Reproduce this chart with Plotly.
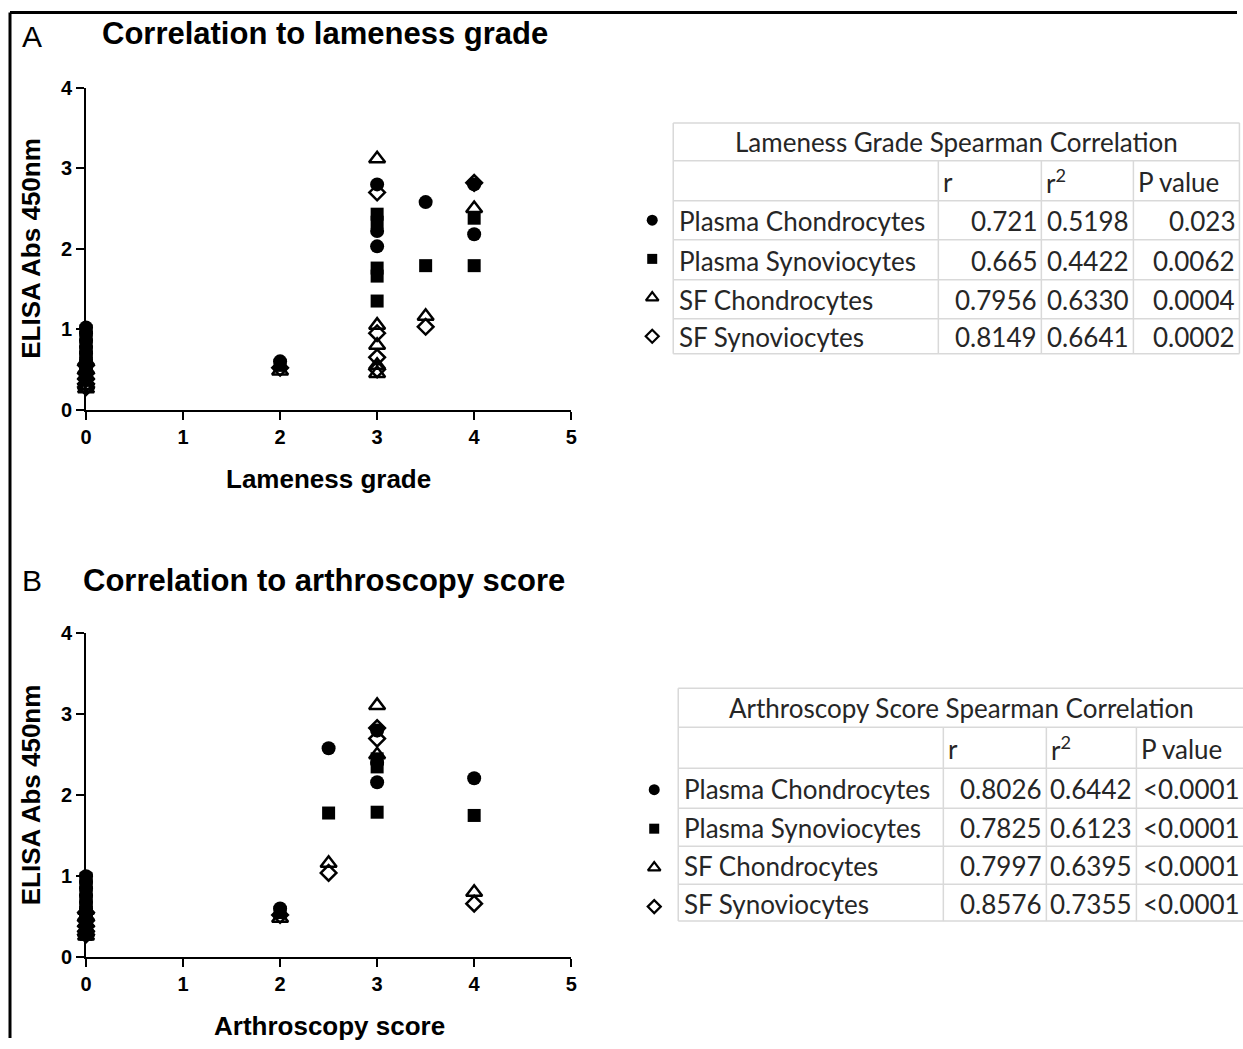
import plotly.graph_objects as go

W, H = 1243, 1049
# map reference pixel positions to paper coordinates (small calibration for page rendering)
def fx(p): return min(max(((p - 5) / 0.99) / W, -0.01), 1.01)
def fy(p): return min(max(1 - ((p - 10) / 0.98) / H, -0.01), 1.01)

# ---------------- DATA ----------------
series_names = ["Plasma Chondrocytes", "Plasma Synoviocytes", "SF Chondrocytes", "SF Synoviocytes"]

# Panel A: lameness grade
lam_pc_x = [0, 0, 0, 0, 0, 0, 0, 0, 2, 3, 3, 3, 3.5, 4, 4]
lam_pc_y = [1.02, 0.95, 0.86, 0.78, 0.70, 0.62, 0.55, 0.50, 0.60, 2.80, 2.22, 2.03, 2.58, 2.80, 2.18]
lam_ps_x = [0, 0, 0, 0, 0, 0, 0, 0, 2, 3, 3, 3, 3, 3, 3.5, 4, 4]
lam_ps_y = [0.98, 0.90, 0.80, 0.72, 0.65, 0.58, 0.50, 0.45, 0.55, 2.43, 2.33, 1.76, 1.66, 1.35, 1.79, 2.38, 1.79]
lam_sc_x = [0, 0, 0, 0, 0, 0, 2, 3, 3, 3, 3, 3, 3.5, 4]
lam_sc_y = [0.60, 0.50, 0.42, 0.35, 0.30, 0.26, 0.48, 3.12, 1.05, 0.80, 0.55, 0.45, 1.16, 2.50]
lam_ss_x = [0, 0, 0, 0, 0, 2, 3, 3, 3, 3, 3.5, 4]
lam_ss_y = [0.55, 0.45, 0.38, 0.32, 0.28, 0.52, 2.70, 0.95, 0.65, 0.50, 1.03, 2.82]

# Panel B: arthroscopy score
art_pc_x = [0, 0, 0, 0, 0, 0, 0, 0, 2, 2.5, 3, 3, 3, 4]
art_pc_y = [1.00, 0.93, 0.85, 0.76, 0.68, 0.60, 0.52, 0.45, 0.60, 2.58, 2.80, 2.40, 2.16, 2.21]
art_ps_x = [0, 0, 0, 0, 0, 0, 0, 0, 0, 2, 2.5, 3, 3, 3, 4]
art_ps_y = [0.97, 0.88, 0.78, 0.70, 0.62, 0.55, 0.45, 0.36, 0.28, 0.55, 1.78, 2.45, 2.35, 1.79, 1.75]
art_sc_x = [0, 0, 0, 0, 0, 0, 2, 2.5, 3, 3, 4]
art_sc_y = [0.58, 0.50, 0.42, 0.35, 0.30, 0.26, 0.48, 1.16, 3.11, 2.50, 0.80]
art_ss_x = [0, 0, 0, 0, 0, 2, 2.5, 3, 3, 4]
art_ss_y = [0.55, 0.45, 0.38, 0.32, 0.28, 0.52, 1.04, 2.83, 2.70, 0.66]

x_ticks = [0, 1, 2, 3, 4, 5]
y_ticks = [0, 1, 2, 3, 4]

# Tables
tab_cols = ["", "r", "r<sup>2</sup>", "P value"]
lam_title = "Lameness Grade Spearman Correlation"
lam_r = ["0.721", "0.665", "0.7956", "0.8149"]
lam_r2 = ["0.5198", "0.4422", "0.6330", "0.6641"]
lam_p = ["0.023", "0.0062", "0.0004", "0.0002"]
art_title = "Arthroscopy Score Spearman Correlation"
art_r = ["0.8026", "0.7825", "0.7997", "0.8576"]
art_r2 = ["0.6442", "0.6123", "0.6395", "0.7355"]
art_p = ["<0.0001", "<0.0001", "<0.0001", "<0.0001"]

# ---------------- STYLE ----------------
symbols = ["circle", "square", "triangle-up-open", "diamond-open"]
sizes = [14, 13, 14, 12]
leg_sizes = [11, 10, 11, 10]
AX_FONT = "Liberation Sans, Arial, sans-serif"
TAB_FONT = "Lato, Open Sans, sans-serif"
TAB_COLOR = "#262626"
LINE_COL = "#d9d9d9"

fig = go.Figure()

panelA = [(lam_pc_x, lam_pc_y), (lam_ps_x, lam_ps_y), (lam_sc_x, lam_sc_y), (lam_ss_x, lam_ss_y)]
panelB = [(art_pc_x, art_pc_y), (art_ps_x, art_ps_y), (art_sc_x, art_sc_y), (art_ss_x, art_ss_y)]

for (xa, ya), panel in [(("x", "y"), panelA), (("x2", "y2"), panelB)]:
    for i, (xs, ys) in enumerate(panel):
        fig.add_trace(go.Scatter(
            x=xs, y=ys, mode="markers", xaxis=xa, yaxis=ya, cliponaxis=False,
            name=series_names[i], showlegend=False,
            marker=dict(symbol=symbols[i], size=sizes[i], color="black",
                        line=dict(color="black", width=2.5 if "open" in symbols[i] else 0)),
        ))

# legend-symbol columns next to tables
for xa, ya in [("x3", "y3"), ("x4", "y4")]:
    for i, nm in enumerate(series_names):
        fig.add_trace(go.Scatter(
            x=[0], y=[nm], mode="markers", xaxis=xa, yaxis=ya, showlegend=False, cliponaxis=False,
            marker=dict(symbol=symbols[i], size=leg_sizes[i], color="black",
                        line=dict(color="black", width=2.2 if "open" in symbols[i] else 0)),
        ))

def ann(text, x, y, size, bold=True, angle=0, xanchor="center", family=AX_FONT, color="black"):
    fig.add_annotation(text=text, x=fx(x), y=fy(y), xref="paper", yref="paper",
                       showarrow=False, xanchor=xanchor, yanchor="middle", textangle=angle,
                       borderpad=0,
                       font=dict(family=family, size=size, color=color,
                                 weight="bold" if bold else "normal"))

def hline(x0, x1, y):
    fig.add_shape(type="line", xref="paper", yref="paper", x0=fx(x0), x1=fx(x1), y0=fy(y), y1=fy(y),
                  line=dict(color=LINE_COL, width=1.5))

def vline(x, y0, y1):
    fig.add_shape(type="line", xref="paper", yref="paper", x0=fx(x), x1=fx(x), y0=fy(y0), y1=fy(y1),
                  line=dict(color=LINE_COL, width=1.5))

def draw_table(title, r, r2, p, left, top, widths, heights, fsize):
    xe = [left]
    for w in widths:
        xe.append(xe[-1] + w)
    ye = [top]
    for h in heights:
        ye.append(ye[-1] + h)
    right, bottom = xe[-1], ye[-1]
    for y in ye:
        hline(left, right, y)
    vline(left, top, bottom)
    vline(right, top, bottom)
    for x in xe[1:-1]:
        vline(x, ye[1], bottom)
    ann(title, (left + right) / 2, (ye[0] + ye[1]) / 2, fsize, bold=False, family=TAB_FONT, color=TAB_COLOR)
    for c, txt in enumerate(tab_cols):
        if txt:
            ann(txt, xe[c] + 4, (ye[1] + ye[2]) / 2 + 1, fsize, bold=False, xanchor="left",
                family=TAB_FONT, color=TAB_COLOR)
    cols = [series_names, r, r2, p]
    for c, col in enumerate(cols):
        for k, txt in enumerate(col):
            yc = (ye[2 + k] + ye[3 + k]) / 2 + 1
            if c == 0:
                ann(txt, xe[0] + 5, yc, fsize, bold=False, xanchor="left", family=TAB_FONT, color=TAB_COLOR)
            else:
                ann(txt, xe[c + 1] - 3, yc, fsize, bold=False, xanchor="right", family=TAB_FONT, color=TAB_COLOR)

draw_table(lam_title, lam_r, lam_r2, lam_p, 672, 122, [265, 103, 92, 106], [38, 40, 39, 40, 39, 35], 26)
draw_table(art_title, art_r, art_r2, art_p, 677, 688, [265, 103, 90, 108], [39, 41, 40, 38, 38, 37], 26)

axis_common = dict(showline=True, linewidth=2, linecolor="black", ticks="outside", ticklen=8,
                   tickwidth=2, tickcolor="black", showgrid=False, zeroline=False,
                   tickfont=dict(family=AX_FONT, size=20, color="black", weight="bold"))

fig.update_layout(
    width=W, height=H, margin=dict(l=0, r=0, t=0, b=0),
    paper_bgcolor="white", plot_bgcolor="white", showlegend=False,
    xaxis=dict(domain=[fx(85), fx(570)], range=[0, 5], tickvals=x_ticks, anchor="y", **axis_common),
    yaxis=dict(domain=[fy(409), fy(87)], range=[0, 4], tickvals=y_ticks, anchor="x", **axis_common),
    xaxis2=dict(domain=[fx(85), fx(570)], range=[0, 5], tickvals=x_ticks, anchor="y2", **axis_common),
    yaxis2=dict(domain=[fy(957), fy(633)], range=[0, 4], tickvals=y_ticks, anchor="x2", **axis_common),
    xaxis3=dict(domain=[fx(641), fx(661)], range=[-1, 1], visible=False, anchor="y3"),
    yaxis3=dict(domain=[fy(355), fy(200)], type="category", categoryarray=series_names[::-1],
                range=[-0.5, 3.5], visible=False, anchor="x3"),
    xaxis4=dict(domain=[fx(643), fx(663)], range=[-1, 1], visible=False, anchor="y4"),
    yaxis4=dict(domain=[fy(926), fy(770)], type="category", categoryarray=series_names[::-1],
                range=[-0.5, 3.5], visible=False, anchor="x4"),
)

ann("A", 20, 36, 30, bold=False, xanchor="left")
ann("Correlation to lameness grade", 100, 33, 31, xanchor="left")
ann("B", 20, 580, 30, bold=False, xanchor="left")
ann("Correlation to arthroscopy score", 81, 580, 31, xanchor="left")
ann("Lameness grade", 327, 478, 26)
ann("Arthroscopy score", 328, 1026, 26)
ann("ELISA Abs 450nm", 30, 248, 26, angle=-90)
ann("ELISA Abs 450nm", 30, 795, 26, angle=-90)

# figure border (top and left)
fig.add_shape(type="line", xref="paper", yref="paper", x0=fx(9), x1=fx(9), y0=0, y1=1 - 1.5 / H,
              line=dict(color="black", width=3))
fig.add_shape(type="line", xref="paper", yref="paper", x0=fx(9), x1=1, y0=1 - 1.5 / H, y1=1 - 1.5 / H,
              line=dict(color="black", width=3))

fig.write_html("out.html", config={"displayModeBar": False})
